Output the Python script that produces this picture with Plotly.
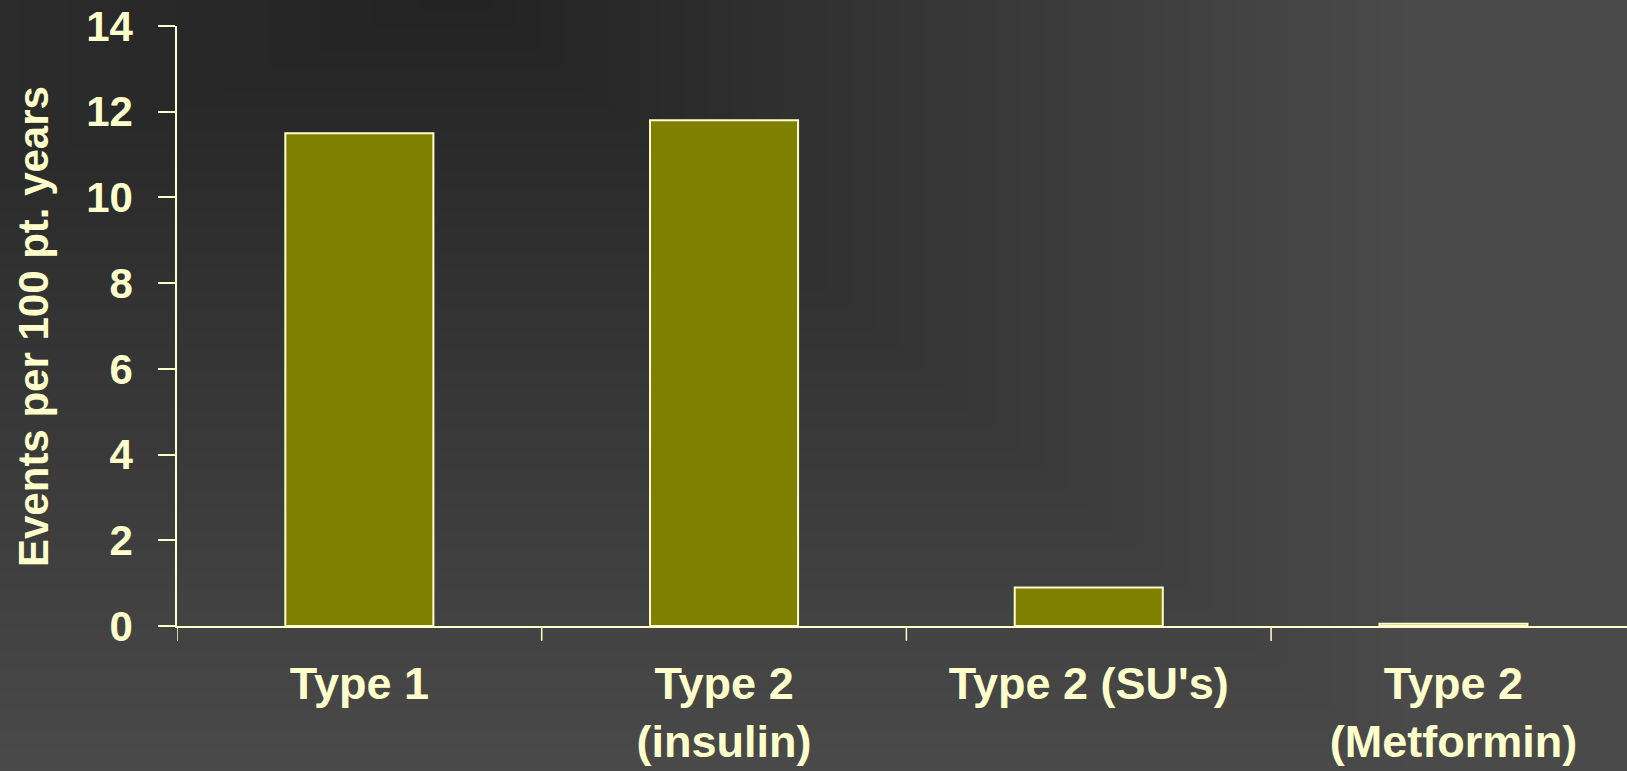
import plotly.graph_objects as go

# Hypoglycaemia event rates by diabetes type / treatment
categories = ["Type 1", "Type 2<br>(insulin)", "Type 2 (SU's)", "Type 2<br>(Metformin)"]
events_per_100_pt_years = [11.5, 11.8, 0.9, 0.05]
y_ticks = [0, 2, 4, 6, 8, 10, 12, 14]

W, H = 1627, 771
ML, MR, MT, MB = 177, 0, 26, 145
PW, PH = W - ML - MR, H - MT - MB

TEXT = "#FFFFCC"
BAR = "#808000"
FONT = "Liberation Sans, Arial, sans-serif"


def px_to_paper(x, y):
    return (x - ML) / PW, (H - MB - y) / PH


# Dark rectangular gradient background, darkest near the top-left
shapes = []
cx, cy = 470, -10
reach_l, reach_r, reach_u, reach_d = 2000, 960, 400, 800
dark, light = 34, 74
n = 40
for i in range(n, 0, -1):
    t = i / n
    x0, y0 = px_to_paper(cx - t * reach_l, cy + t * reach_d)
    x1, y1 = px_to_paper(cx + t * reach_r, cy - t * reach_u)
    if i == n:
        x0, y0 = px_to_paper(-50, H + 50)
        x1, y1 = px_to_paper(W + 50, -50)
    v = round(dark + (light - dark) * t)
    shapes.append(dict(
        type="rect", xref="paper", yref="paper",
        x0=x0, y0=y0, x1=x1, y1=y1,
        fillcolor=f"rgb({v},{v},{v})", line=dict(width=0), layer="below",
    ))

fig = go.Figure(go.Bar(
    x=list(range(len(categories))),
    y=events_per_100_pt_years,
    width=0.406,
    marker=dict(color=BAR, line=dict(color=TEXT, width=2)),
    hoverinfo="skip",
))

cat_px = 364.7
fig.update_layout(
    width=W, height=H,
    margin=dict(l=ML, r=MR, t=MT, b=MB, pad=0, autoexpand=False),
    paper_bgcolor="rgb(74,74,74)",
    plot_bgcolor="rgba(0,0,0,0)",
    showlegend=False,
    shapes=shapes,
    font=dict(family=FONT, color=TEXT),
    xaxis=dict(
        tickmode="array",
        tickvals=list(range(len(categories))),
        ticktext=categories,
        range=[-0.5, -0.5 + PW / cat_px],
        automargin=False,
        showgrid=False, zeroline=False,
        showline=True, linecolor=TEXT, linewidth=1.5,
        ticks="",
        tickfont=dict(family=FONT, size=45, color=TEXT, weight="bold"),
        ticklabelstandoff=17,
    ),
    yaxis=dict(
        range=[0, 14],
        tickvals=y_ticks,
        automargin=False,
        showgrid=False, zeroline=False,
        showline=True, linecolor=TEXT, linewidth=1.5,
        ticks="outside", ticklen=17, tickwidth=1.5, tickcolor=TEXT,
        tickfont=dict(family=FONT, size=42, color=TEXT, weight="bold"),
        ticklabelstandoff=17,
    ),
    annotations=[dict(
        text="Events per 100 pt. years",
        textangle=-90,
        xref="paper", yref="paper",
        x=px_to_paper(33, 0)[0], y=px_to_paper(0, 327)[1],
        xanchor="center", yanchor="middle",
        showarrow=False,
        font=dict(family=FONT, size=42, color=TEXT, weight="bold"),
    )],
)

# Category boundary ticks below the x axis
for b in [-0.5, 0.5, 1.5, 2.5]:
    fig.add_shape(type="line", xref="x", yref="paper",
                  x0=b, x1=b, y0=0, y1=-15 / PH,
                  line=dict(color=TEXT, width=1.5))

fig.write_html("out.html")
